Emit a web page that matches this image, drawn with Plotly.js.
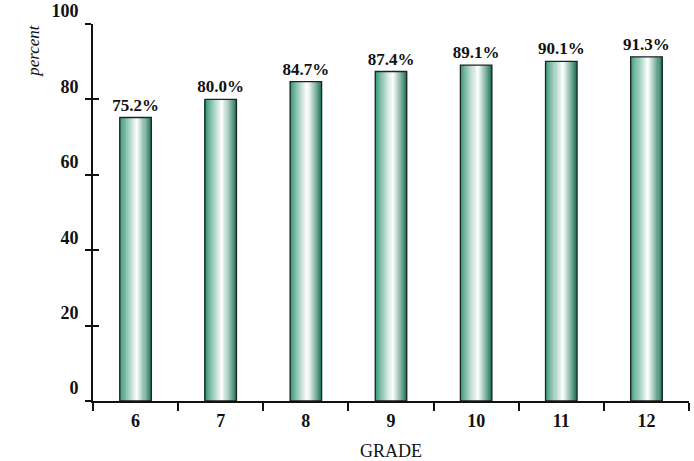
<!DOCTYPE html>
<html><head><meta charset="utf-8">
<script src="https://cdn.plot.ly/plotly-3.0.1.min.js"></script>
<style>html,body{margin:0;padding:0;background:#fff}#chart{width:694px;height:461px}</style>
</head><body><div id="chart"></div>
<script>
const grades = ['6','7','8','9','10','11','12'];
const values = [75.2, 80.0, 84.7, 87.4, 89.1, 90.1, 91.3];
const labels = ['75.2%','80.0%','84.7%','87.4%','89.1%','90.1%','91.3%'];
const yTicks = [0,20,40,60,80,100];

const FONT = '"Liberation Serif", "DejaVu Serif", serif';
const W = 0.37, N = 30;
function lerp(a,b,t){return a+(b-a)*t;}
function colAt(t){
  const L=[42,145,110], R=[28,118,88], Wh=[255,255,255];
  const pk=0.56; let c, s;
  if(t<pk){ s=Math.pow(t/pk,0.85); c=L.map((v,i)=>lerp(v,Wh[i],s)); }
  else { s=Math.pow((1-t)/(1-pk),0.9); c=R.map((v,i)=>lerp(v,Wh[i],s)); }
  return 'rgb('+c.map(Math.round).join(',')+')';
}
const traces=[];
for(let i=0;i<N;i++){
  traces.push({type:'bar', x:grades, y:values, width:W/N*1.08, offset:-W/2+i*W/N,
    marker:{color:colAt((i+0.5)/N), line:{width:0}}, hoverinfo:'skip', showlegend:false});
}
traces.push({type:'bar', x:grades, y:values, width:W, offset:-W/2,
  marker:{color:'rgba(0,0,0,0)', line:{color:'#222', width:1.3}},
  text:labels, textposition:'outside', cliponaxis:false, constraintext:'none',
  textfont:{family:FONT, size:17, color:'#111', weight:'bold'}, showlegend:false});

const layout={
  width:694, height:461, margin:{l:93,r:5,t:24,b:60},
  paper_bgcolor:'#fff', plot_bgcolor:'#fff', barmode:'overlay', showlegend:false,
  font:{family:FONT, color:'#111'},
  xaxis:{type:'category', range:[-0.5,6.5], tickson:'boundaries', ticks:'outside', ticklen:8, tickwidth:2, tickcolor:'#111',
    showline:true, linewidth:2, linecolor:'#111', showgrid:false, zeroline:false, ticklabelstandoff:2,
    tickfont:{family:FONT,size:18,weight:'bold',color:'#111'},
    title:{text:'GRADE', font:{family:FONT,size:18,color:'#111'}, standoff:15}},
  yaxis:{range:[0,100], tickvals:yTicks, ticks:'outside', ticklen:6, tickwidth:2, tickcolor:'#111',
    showline:true, linewidth:2, linecolor:'#111', showgrid:false, zeroline:false, ticklabelshift:-13,
    tickfont:{family:FONT,size:18,weight:'bold',color:'#111'}, ticklabelstandoff:3},
  yaxis2:{range:[0,100], overlaying:'y', side:'left', tickvals:yTicks, ticks:'inside', ticklen:6, tickwidth:2, tickcolor:'#111',
    showticklabels:false, showline:false, showgrid:false, zeroline:false},
  annotations:[{text:'<i>percent</i>', xref:'paper', yref:'paper', x:-0.1, y:0.93, xanchor:'center', yanchor:'middle',
    textangle:-90, showarrow:false, font:{family:FONT,size:17,color:'#111'}}]
};
traces.push({type:'scatter', x:[grades[0]], y:[0], yaxis:'y2', mode:'markers', marker:{opacity:0}, hoverinfo:'skip', showlegend:false});
Plotly.newPlot('chart', traces, layout, {displayModeBar:false});
</script></body></html>
